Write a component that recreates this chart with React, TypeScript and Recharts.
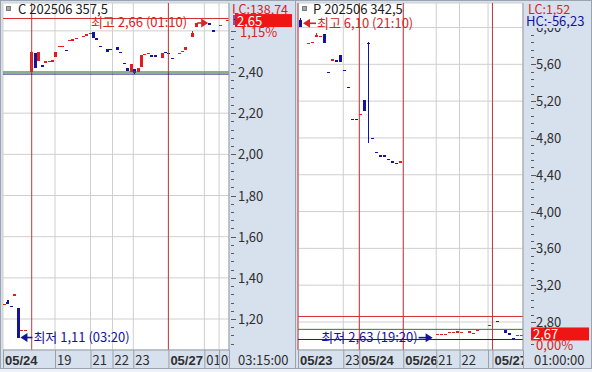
import React from 'react';
import { ComposedChart, Bar, XAxis, YAxis, CartesianGrid, ReferenceLine, ReferenceDot } from 'recharts';

const FONT = "'Liberation Sans Narrow', 'Noto Sans CJK KR', sans-serif";
const FONT_BOLD = "'Liberation Sans', 'Noto Sans CJK KR', sans-serif";
const RED = '#e31b1d';
const NAVY = '#13139e';
const TXT = '#2e2e2e';
const AXIS_BG = '#d7e0ed';
const GRID = '#cfcfcf';
const DAYLINE = '#c23a3c';
const SEP = '#97a1af';

// ---------- Left panel: C 202506 357.5 ----------
const LEFT_SLOTS = 66;
const leftSlots = [0,1,2,3,4,5,6,8,9,10,11,12,13,14,15,16,17,18,19,20,21,23,24,25,26,27,28,30,31,33,34,35,36,37,38,39,40,41,42,43,44,46,47,48,49,51,52,53,55,56,60,61,63,65];
const leftOpen = [1.27,1.285,1.263,1.317,1.254,1.146,1.146,2.40,2.491,2.454,2.43,2.449,2.452,2.454,2.475,2.523,2.523,2.504,2.553,2.55,2.564,2.572,2.58,2.589,2.592,2.561,2.523,2.51,2.51,2.523,2.496,2.442,2.421,2.401,2.413,2.399,2.426,2.486,2.491,2.478,2.478,2.47,2.494,2.491,2.467,2.491,2.499,2.507,2.572,2.621,2.64,2.60,2.626,2.65];
const leftHigh = [1.27,1.29,1.263,1.317,1.254,1.146,1.146,2.50,2.491,2.499,2.43,2.449,2.452,2.454,2.499,2.523,2.523,2.504,2.553,2.56,2.564,2.572,2.58,2.589,2.592,2.561,2.523,2.51,2.51,2.523,2.496,2.442,2.421,2.439,2.413,2.421,2.483,2.486,2.491,2.478,2.478,2.491,2.494,2.491,2.467,2.491,2.499,2.523,2.60,2.64,2.64,2.60,2.626,2.65];
const leftLow = [1.27,1.273,1.263,1.317,1.11,1.146,1.146,2.40,2.418,2.454,2.43,2.449,2.452,2.454,2.475,2.523,2.523,2.504,2.553,2.55,2.564,2.572,2.58,2.589,2.564,2.561,2.523,2.499,2.51,2.507,2.496,2.442,2.406,2.401,2.39,2.399,2.426,2.486,2.491,2.478,2.478,2.47,2.494,2.491,2.467,2.491,2.499,2.507,2.572,2.621,2.629,2.60,2.626,2.65];
const leftClose = [1.27,1.273,1.263,1.317,1.11,1.146,1.146,2.499,2.418,2.499,2.43,2.449,2.452,2.454,2.499,2.523,2.523,2.504,2.553,2.56,2.564,2.572,2.58,2.589,2.564,2.561,2.523,2.499,2.51,2.507,2.496,2.442,2.406,2.439,2.394,2.421,2.483,2.486,2.491,2.478,2.478,2.491,2.494,2.491,2.467,2.491,2.499,2.523,2.59,2.64,2.629,2.60,2.626,2.65];
const leftDir = ('udduduu' + 'ududuuuuuuduuu' + 'uuuddd' + 'dd' + 'dddduduuuudd' + 'uddd' + 'uuu' + 'uu' + 'dd' + 'uu').split('');
const leftDomain: [number, number] = [1.0494, 2.7353];
const leftMajorTicks = [1.2, 1.4, 1.6, 1.8, 2.0, 2.2, 2.4, 2.6];
const leftHiddenLabels = [2.6];
const leftMinorStep = 0.04;
const leftXTicks = [0, 15.19, 25.55, 31.98, 38.05, 48.3, 58.8, 63.1];
const leftXLabels = ['05/24', '19', '21', '22', '23', '05/27', '01', '02'];
const leftDayLines = [8.38, 48.3];
const leftLevels = { high: 2.66, base: 2.40, low: 2.39 };

// ---------- Right panel: P 202506 342.5 ----------
const RIGHT_SLOTS = 56;
const rightSlots = [0,2,3,4,5,6,7,8,9,10,11,12,13,14,15,16,17,18,19,20,21,22,23,24,25,34,35,36,37,38,39,40,42,43,44,47,49,51,52,53,54,55];
const rightOpen = [6.08,5.83,5.835,5.90,5.90,5.93,5.51,5.647,5.636,5.70,5.53,5.35,5.005,5.005,5.057,5.21,5.835,4.796,4.644,4.604,4.604,4.568,4.54,4.524,4.54,2.666,2.666,2.666,2.688,2.688,2.68,2.688,2.677,2.68,2.706,2.767,2.803,2.713,2.677,2.623,2.655,2.655];
const rightHigh = [6.10,5.83,5.835,5.94,5.90,5.93,5.51,5.647,5.636,5.70,5.53,5.35,5.005,5.005,5.057,5.21,5.84,4.796,4.644,4.604,4.604,4.568,4.54,4.524,4.54,2.666,2.666,2.666,2.688,2.688,2.70,2.688,2.706,2.68,2.706,2.767,2.803,2.713,2.677,2.623,2.655,2.655];
const rightLow = [6.01,5.83,5.835,5.90,5.90,5.83,5.51,5.647,5.636,5.628,5.53,5.35,5.005,5.005,5.057,5.096,4.75,4.796,4.644,4.604,4.604,4.568,4.54,4.524,4.54,2.666,2.666,2.666,2.688,2.688,2.68,2.688,2.677,2.68,2.706,2.767,2.803,2.677,2.655,2.623,2.655,2.655];
const rightClose = [6.01,5.83,5.835,5.92,5.90,5.83,5.51,5.647,5.636,5.628,5.53,5.35,5.005,5.005,5.057,5.096,5.82,4.796,4.644,4.604,4.604,4.568,4.54,4.524,4.54,2.666,2.666,2.666,2.688,2.688,2.70,2.688,2.706,2.68,2.706,2.767,2.803,2.677,2.655,2.623,2.655,2.655];
const rightDir = ('duuuudduddddddudddddddddu' + 'uuuuuuu' + 'uuu' + 'u' + 'd' + 'dddu' + 'u').split('');
const rightDomain: [number, number] = [2.4958, 6.266];
const rightMajorTicks = [2.8, 3.2, 3.6, 4.0, 4.4, 4.8, 5.2, 5.6, 6.0];
const rightHiddenLabels: number[] = [];
const rightMinorStep = 0.08;
const rightXTicks = [0, 11.27, 15.26, 26.2, 34.4, 40.2, 47.3, 48.4];
const rightXLabels = ['05/23', '23', '05/24', '05/26', '21', '22', '', '05/27'];
const rightDayLines = [0, 15.26, 26.2, 48.4];
const rightLevels = { high: 2.86, base: 2.72, low: 2.61 };

type Candle = { x: number; o: number; h: number; l: number; c: number; d: string };

function buildCandles(slots: number[], o: number[], h: number[], l: number[], c: number[], d: string[]): Candle[] {
  return slots.map((s, i) => ({ x: s + 0.5, o: o[i], h: h[i], l: l[i], c: c[i], d: d[i] }));
}

function withMinor(domain: [number, number], step: number): number[] {
  const out: number[] = [];
  for (let k = Math.ceil(domain[0] / step - 1e-9); k * step <= domain[1] + 1e-9; k++) out.push(+(k * step).toFixed(4));
  return out;
}

const fmt = (v: number) => v.toFixed(2).replace('.', ',');

const CandleShape = (props: any) => {
  const { x, y, width, height, payload } = props;
  if (x == null || y == null || !payload) return null;
  const top = Math.min(y, y + (height || 0));
  const span = Math.abs(height || 0);
  const col = payload.d === 'u' ? RED : NAVY;
  const range = payload.h - payload.l;
  const cx = x + width / 2;
  if (range <= 0 || span < 0.01) {
    return <rect x={x} y={top - 0.5} width={width} height={1.2} fill={col} shapeRendering="crispEdges" />;
  }
  const k = span / range;
  const yOf = (v: number) => top + (payload.h - v) * k;
  const bTop = yOf(Math.max(payload.o, payload.c));
  const bBot = yOf(Math.min(payload.o, payload.c));
  return (
    <g shapeRendering="crispEdges">
      <rect x={cx - 0.6} y={top} width={1.2} height={span} fill={col} />
      <rect x={x} y={bTop} width={width} height={Math.max(1.2, bBot - bTop)} fill={col} />
    </g>
  );
};

function makeXTick(labels: string[], clipRight: number, id: string) {
  return (props: any) => {
    const { x, y, index } = props;
    const label = labels[index] ?? '';
    const bold = label.includes('/');
    const cid = `${id}-${index}`;
    return (
      <g>
        <defs>
          <clipPath id={cid}>
            <rect x={x} y={y} width={Math.max(0, clipRight - x)} height={18} />
          </clipPath>
        </defs>
        <line x1={x + 0.5} x2={x + 0.5} y1={y} y2={y + 18} stroke={SEP} />
        <text x={x + 2} y={y + 14.5} clipPath={`url(#${cid})`} fill={TXT}
          style={{ fontFamily: bold ? FONT_BOLD : FONT, fontSize: 13, fontWeight: bold ? 700 : 400 }}>
          {label}
        </text>
      </g>
    );
  };
}

function makeYTick(majorStep: number, tickOffset: number, textOffset: number, hidden: number[]) {
  return (props: any) => {
    const { x, y, payload } = props;
    const v = payload.value;
    const major = Math.abs(v / majorStep - Math.round(v / majorStep)) < 1e-6;
    const showLabel = major && !hidden.some((h) => Math.abs(h - v) < 1e-6);
    return (
      <g>
        <line x1={x + tickOffset} x2={x + tickOffset + (major ? 5 : 3)} y1={y + 0.5} y2={y + 0.5} stroke="#5a5a5a" shapeRendering="crispEdges" />
        {showLabel && (
          <text x={x + textOffset} y={y + 5} fill={TXT} style={{ fontFamily: FONT, fontSize: 13 }}>{fmt(v)}</text>
        )}
      </g>
    );
  };
}

function annotation(text: string, color: string, textSide: 'left' | 'right', tipDx: number, tailDx: number, textDx: number, dy: number) {
  return (props: any) => {
    const vb = props.viewBox || {};
    const cx = (vb.x ?? 0) + (vb.width ?? 0) / 2;
    const cy = (vb.y ?? 0) + (vb.height ?? 0) / 2 + dy;
    const tip = cx + tipDx;
    const tail = cx + tailDx;
    const dir = tip > tail ? 1 : -1;
    return (
      <g>
        <line x1={tail} x2={tip - dir * 4} y1={cy} y2={cy} stroke={color} strokeWidth={1.6} />
        <polygon points={`${tip},${cy} ${tip - dir * 7},${cy - 4.5} ${tip - dir * 7},${cy + 4.5}`} fill={color} />
        <text x={cx + textDx} y={cy + 4.5} textAnchor={textSide === 'left' ? 'end' : 'start'} fill={color}
          style={{ fontFamily: FONT, fontSize: 13 }}>{text}</text>
      </g>
    );
  };
}

function priceBox(price: string, pct: string, gap: number, boxW: number) {
  return (props: any) => {
    const vb = props.viewBox || {};
    const R = (vb.x ?? 0) + (vb.width ?? 0);
    const cy = vb.y ?? 0;
    return (
      <g>
        <rect x={R + gap} y={cy - 6.5} width={boxW} height={13} fill="#f01515" />
        <text x={R + gap + 2} y={cy + 5} fill="#ffffff" style={{ fontFamily: FONT, fontSize: 13 }}>{price}</text>
        <text x={R + gap + 5} y={cy + 16.5} fill="#d82424" style={{ fontFamily: FONT, fontSize: 13 }}>{pct}</text>
      </g>
    );
  };
}

const range = (d: Candle) => [d.l, d.h];

function Panel(p: {
  data: Candle[]; slots: number; width: number; yAxisWidth: number; domain: [number, number];
  major: number[]; minorStep: number; majorStep: number; xTicks: number[]; xLabels: string[]; hidden: number[];
  dayLines: number[]; levels: { high: number; base: number; low: number }; plotRight: number; id: string;
  tickOffset: number; textOffset: number; children?: React.ReactNode; boxGap: number; boxW: number;
  price: number; priceLabel: string; pct: string;
}) {
  return (
    <ComposedChart width={p.width} height={372} data={p.data} margin={{ top: 3, right: 2, bottom: 4, left: 3 }}>
      <XAxis type="number" dataKey="x" domain={[0, p.slots]} ticks={p.xTicks} interval={0} allowDataOverflow
        height={18} tickLine={false} tickSize={0} tickMargin={0} axisLine={{ stroke: SEP }}
        tick={makeXTick(p.xLabels, p.plotRight, p.id)} />
      <YAxis yAxisId={0} hide type="number" domain={p.domain} ticks={p.major} allowDataOverflow />
      <YAxis yAxisId="v" orientation="right" type="number" domain={p.domain} ticks={withMinor(p.domain, p.minorStep)}
        interval={0} allowDataOverflow width={p.yAxisWidth} tickLine={false} tickSize={0} tickMargin={0}
        axisLine={{ stroke: SEP }} tick={makeYTick(p.majorStep, p.tickOffset, p.textOffset, p.hidden)} />
      <CartesianGrid stroke={GRID} />
      {p.dayLines.map((v) => (
        <ReferenceLine key={`d${v}`} x={v} yAxisId="v" stroke={DAYLINE} />
      ))}
      <ReferenceLine y={p.levels.high} yAxisId="v" stroke="#d23030" />
      <ReferenceLine y={p.levels.base} yAxisId="v" stroke="#2a7d2a" />
      <ReferenceLine y={p.levels.low} yAxisId="v" stroke="#1a1a8c" />
      <Bar yAxisId="v" dataKey={range as any} shape={CandleShape} barSize={3} isAnimationActive={false} />
      {p.children}
      <ReferenceLine y={p.price} yAxisId="v" stroke="none" label={priceBox(p.priceLabel, p.pct, p.boxGap, p.boxW)} />
    </ComposedChart>
  );
}

export default function App() {
  const left = buildCandles(leftSlots, leftOpen, leftHigh, leftLow, leftClose, leftDir);
  const right = buildCandles(rightSlots, rightOpen, rightHigh, rightLow, rightClose, rightDir);
  const txt = { fontFamily: FONT, fontSize: 13 } as React.CSSProperties;
  const txtTop = { fontFamily: FONT, fontSize: 12.5 } as React.CSSProperties;
  return (
    <div style={{ position: 'absolute', left: 0, top: 0, width: 592, height: 372, background: AXIS_BG, overflow: 'hidden' }}>
      <div style={{ position: 'absolute', left: 3, top: 3, width: 226, height: 347, background: '#fff' }} />
      <div style={{ position: 'absolute', left: 298, top: 3, width: 225, height: 347, background: '#fff' }} />
      <div style={{ position: 'absolute', left: 0, top: 0 }}>
        <Panel data={left} slots={LEFT_SLOTS} width={296} yAxisWidth={65} domain={leftDomain} major={leftMajorTicks}
          minorStep={leftMinorStep} majorStep={0.2} xTicks={leftXTicks} xLabels={leftXLabels} dayLines={leftDayLines}
          hidden={leftHiddenLabels}
          levels={leftLevels} plotRight={229} id="lx" tickOffset={2} textOffset={9} boxGap={6} boxW={57}
          price={2.65} priceLabel="2,65" pct="1,15%">
          <ReferenceDot x={60.5} y={2.66} yAxisId="v" r={1} fill="none" stroke="none"
            label={annotation('최고 2,66 (01:10)', '#d62424', 'left', -2, -13, -23, 4.5)} />
          <ReferenceDot x={4.5} y={1.11} yAxisId="v" r={1} fill="none" stroke="none"
            label={annotation('최저 1,11 (03:20)', NAVY, 'right', 2, 14, 15, 0)} />
        </Panel>
      </div>
      <div style={{ position: 'absolute', left: 295, top: 0 }}>
        <Panel data={right} slots={RIGHT_SLOTS} width={297} yAxisWidth={67} domain={rightDomain} major={rightMajorTicks}
          minorStep={rightMinorStep} majorStep={0.4} xTicks={rightXTicks} xLabels={rightXLabels} dayLines={rightDayLines}
          hidden={rightHiddenLabels}
          levels={rightLevels} plotRight={523 - 295} id="rx" tickOffset={8} textOffset={13} boxGap={8} boxW={58}
          price={2.67} priceLabel="2,67" pct="0,00%">
          <ReferenceDot x={0.5} y={6.10} yAxisId="v" r={1} fill="none" stroke="none"
            label={annotation('최고 6,10 (21:10)', '#d62424', 'right', 3, 16, 17, 5)} />
          <ReferenceDot x={34.5} y={2.63} yAxisId="v" r={1} fill="none" stroke="none"
            label={annotation('최저 2,63 (19:20)', NAVY, 'left', -4, -18, -19, 0)} />
        </Panel>
      </div>
      <svg width={592} height={372} style={{ position: 'absolute', left: 0, top: 0, pointerEvents: 'none' }}>
        <defs>
          <clipPath id="hcClip"><rect x={230} y={13} width={5} height={15} /></clipPath>
        </defs>
        <rect x={0.5} y={0.5} width={295} height={368} fill="none" stroke="#9aa3b0" />
        <rect x={295.5} y={0.5} width={296} height={368} fill="none" stroke="#9aa3b0" />
        <rect x={0} y={369} width={592} height={3} fill="#eef1f5" />
        <line x1={229.5} x2={229.5} y1={350} y2={368} stroke={SEP} />
        <line x1={523.5} x2={523.5} y1={350} y2={368} stroke={SEP} />
        <rect x={6.5} y={6.5} width={4} height={4} fill="#a5a5a5" stroke="#7d7d7d" />
        <text x={18} y={14} fill="#202020" style={txt}>C 202506 357,5</text>
        <rect x={230.5} y={1} width={63} height={12.5} fill={AXIS_BG} />
        <text x={232} y={13.5} fill="#d42424" style={txtTop}>LC:138,74</text>
        <rect x={230.5} y={13.5} width={4.5} height={14} fill={AXIS_BG} />
        <text x={232} y={25} fill={NAVY} style={txt} clipPath="url(#hcClip)">H</text>
        <text x={238} y={365} fill={TXT} style={txt}>03:15:00</text>
        <rect x={302.5} y={6.5} width={4} height={4} fill="#a5a5a5" stroke="#7d7d7d" />
        <text x={313} y={14} fill="#202020" style={txt}>P 202506 342,5</text>
        <rect x={524.5} y={1} width={66} height={27} fill={AXIS_BG} />
        <text x={528} y={13.5} fill="#d42424" style={txtTop}>LC:1,52</text>
        <text x={526} y={25.5} fill={NAVY} style={txt}>HC:-56,23</text>
        <text x={534} y={365} fill={TXT} style={txt}>01:00:00</text>
      </svg>
    </div>
  );
}
